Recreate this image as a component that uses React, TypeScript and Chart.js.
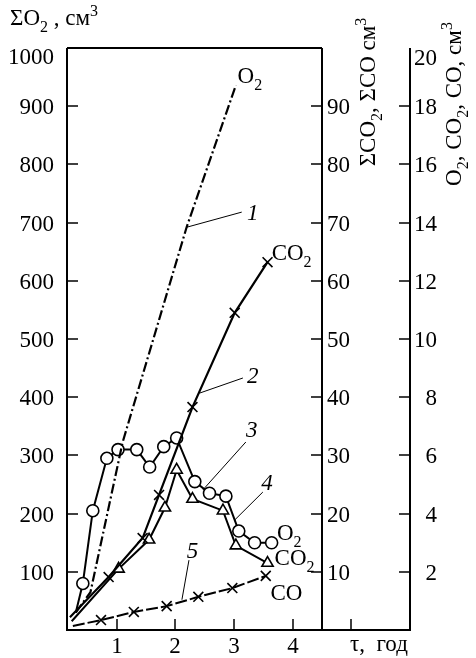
import React, { useEffect, useRef } from 'react';
import { Chart, registerables } from 'chart.js';

Chart.register(...registerables);

// Curve 1: ΣO2 cumulative (left axis, см³)
const sumO2X = [0.3, 0.55, 1.1, 2.19, 3.03];
const sumO2Y = [30, 65, 323, 692, 936];
// Curve 2: ΣCO2 cumulative (middle axis, см³)
const sumCO2X = [0.2, 0.86, 1.44, 1.72, 2.29, 3.01, 3.57];
const sumCO2Y = [2.2, 9.1, 15.8, 23.2, 38.3, 54.5, 63.2];
// Curve 3: O2 (right axis, см³)
const o2X = [0.3, 0.42, 0.59, 0.83, 1.02, 1.34, 1.56, 1.8, 2.02, 2.33, 2.58, 2.86, 3.08, 3.35, 3.64];
const o2Y = [0.6, 1.6, 4.1, 5.9, 6.2, 6.2, 5.6, 6.3, 6.6, 5.1, 4.7, 4.6, 3.4, 3.0, 3.0];
// Curve 4: CO2 (right axis, см³)
const co2X = [0.23, 1.03, 1.55, 1.82, 2.02, 2.29, 2.81, 3.03, 3.57];
const co2Y = [0.3, 2.1, 3.1, 4.2, 5.5, 4.5, 4.1, 2.9, 2.3];
// Curve 5: CO (right axis, см³)
const coX = [0.25, 0.73, 1.29, 1.85, 2.39, 2.97, 3.54];
const coY = [0.14, 0.34, 0.62, 0.82, 1.14, 1.44, 1.86];

// Axis ticks
const leftTicks = [100, 200, 300, 400, 500, 600, 700, 800, 900, 1000];
const midTicks = [10, 20, 30, 40, 50, 60, 70, 80, 90];
const rightTicks = [2, 4, 6, 8, 10, 12, 14, 16, 18, 20];
const xTicks = [1, 2, 3, 4, 5];
const xTickLabels = ['1', '2', '3', '4', ''];
const midAxisAt = 4.5;

// Curve numbers and leader lines (data coords: x, left-axis value)
const curveNums = ['1', '2', '3', '4', '5'];
const curveNumPos = [[3.32, 718], [3.32, 438], [3.3, 344], [3.56, 254], [2.29, 137]];
const leaders = [
  [3.13, 718, 2.19, 692],
  [3.15, 433, 2.41, 407],
  [3.2, 323, 2.47, 241],
  [3.49, 237, 3.01, 189],
  [2.23, 120, 2.11, 52],
];
// Gas labels at curve ends (left-aligned start, vertical centre)
const gasLabels: [string, number][][] = [
  [['O', 0], ['2', 1]],
  [['CO', 0], ['2', 1]],
  [['O', 0], ['2', 1]],
  [['CO', 0], ['2', 1]],
  [['CO', 0]],
];
const gasLabelPos = [[3.06, 952], [3.64, 648], [3.73, 167], [3.69, 124], [3.62, 64]];

const FONT = '"Liberation Serif", "Times New Roman", serif';

function rich(ctx: CanvasRenderingContext2D, segs: [string, number][], x: number, y: number, size: number, align: string, italic = false) {
  const fN = `${italic ? 'italic ' : ''}${size}px ${FONT}`;
  const fS = `${Math.round(size * 0.68)}px ${FONT}`;
  let w = 0;
  for (const [t, k] of segs) {
    ctx.font = k ? fS : fN;
    w += ctx.measureText(t).width;
  }
  let cx = align === 'left' ? x : align === 'center' ? x - w / 2 : x - w;
  ctx.textAlign = 'left';
  ctx.textBaseline = 'alphabetic';
  for (const [t, k] of segs) {
    ctx.font = k ? fS : fN;
    const dy = k === 1 ? size * 0.3 : k === 2 ? -size * 0.38 : 0;
    ctx.fillText(t, cx, y + dy);
    cx += ctx.measureText(t).width;
  }
}

const decor = {
  id: 'decor',
  afterDatasetsDraw(chart: any) {
    const { ctx, chartArea: a, scales } = chart;
    const sx = scales.x, yL = scales.yL, yM = scales.yM, yR = scales.yR;
    const xm = Math.round(sx.getPixelForValue(midAxisAt));
    const L = Math.round(a.left), R = Math.round(a.right), T = Math.round(a.top), B = Math.round(a.bottom);
    const line = (x1: number, y1: number, x2: number, y2: number) => {
      ctx.beginPath();
      ctx.moveTo(x1, y1);
      ctx.lineTo(x2, y2);
      ctx.stroke();
    };
    ctx.save();
    ctx.strokeStyle = '#000';
    ctx.fillStyle = '#000';
    ctx.lineWidth = 2;
    line(L, T, L, B + 1);
    line(L, T, xm, T);
    line(xm, T, xm, B);
    line(R, T, R, B);
    line(L - 1, B, R + 1, B);

    const tl = 11;
    const size = 23;
    ctx.lineWidth = 1.5;
    // left ticks
    for (const v of leftTicks) {
      const y = Math.round(yL.getPixelForValue(v));
      if (v < 1000) line(L, y, L + tl, y);
      const cy = Math.max(y, T + 8);
      rich(ctx, [[String(v), 0]], L - 13, cy + 7.5, size, 'right');
    }
    // middle ticks
    for (const v of midTicks) {
      const y = Math.round(yM.getPixelForValue(v));
      line(xm - tl, y, xm, y);
      rich(ctx, [[String(v), 0]], xm + 5, y + 7.5, size, 'left');
    }
    // right ticks
    for (const v of rightTicks) {
      const y = Math.round(yR.getPixelForValue(v));
      if (v < 20) line(R - tl, y, R, y);
      const cy = Math.max(y, T + 9);
      rich(ctx, [[String(v), 0]], R + 27, cy + 7.5, size, 'right');
    }
    // x ticks
    xTicks.forEach((v, i) => {
      const x = Math.round(sx.getPixelForValue(v));
      line(x, B, x, B - tl);
      if (xTickLabels[i]) rich(ctx, [[xTickLabels[i], 0]], x, B + 23, size, 'center');
    });

    // axis titles
    rich(ctx, [['ΣO', 0], ['2', 1], [' , см', 0], ['3', 2]], 10, 25, 23, 'left');
    ctx.save();
    ctx.translate(375, 92);
    ctx.rotate(-Math.PI / 2);
    rich(ctx, [['ΣCO', 0], ['2', 1], [', ΣCO см', 0], ['3', 2]], 0, 0, 23, 'center');
    ctx.restore();
    ctx.save();
    ctx.translate(461, 104);
    ctx.rotate(-Math.PI / 2);
    rich(ctx, [['O', 0], ['2', 1], [', CO', 0], ['2', 1], [', CO, см', 0], ['3', 2]], 0, 0, 23, 'center');
    ctx.restore();
    rich(ctx, [['τ,  год', 0]], 350, 651, 23, 'left');

    // leaders
    ctx.lineWidth = 1;
    for (const [x1, y1, x2, y2] of leaders) {
      line(sx.getPixelForValue(x1), yL.getPixelForValue(y1), sx.getPixelForValue(x2), yL.getPixelForValue(y2));
    }
    curveNums.forEach((t, i) => {
      const [x, y] = curveNumPos[i];
      rich(ctx, [[t, 0]], sx.getPixelForValue(x), yL.getPixelForValue(y) + 7.5, 23, 'center', true);
    });
    gasLabels.forEach((segs, i) => {
      const [x, y] = gasLabelPos[i];
      rich(ctx, segs, sx.getPixelForValue(x), yL.getPixelForValue(y) + 7.5, 23, 'left');
    });
    ctx.restore();
  },
};

const pts = (xs: number[], ys: number[]) => xs.map((x, i) => ({ x, y: ys[i] }));
const radii = (n: number, r: number) => Array.from({ length: n }, (_, i) => (i === 0 ? 0 : r));

export default function App() {
  const ref = useRef<HTMLCanvasElement>(null);
  useEffect(() => {
    const chart = new Chart(ref.current!, {
      type: 'line',
      data: {
        datasets: [
          {
            label: 'ΣO2',
            data: pts(sumO2X, sumO2Y),
            yAxisID: 'yL',
            borderColor: '#000',
            borderWidth: 2.2,
            borderDash: [10, 3, 2, 3],
            pointRadius: 0,
          },
          {
            label: 'ΣCO2',
            data: pts(sumCO2X, sumCO2Y),
            yAxisID: 'yM',
            borderColor: '#000',
            borderWidth: 2.2,
            pointStyle: 'crossRot',
            pointRadius: radii(sumCO2X.length, 7),
            pointBorderWidth: 1.6,
            pointBorderColor: '#000',
          },
          {
            label: 'O2',
            data: pts(o2X, o2Y),
            yAxisID: 'yR',
            borderColor: '#000',
            borderWidth: 2,
            pointStyle: 'circle',
            pointRadius: radii(o2X.length, 6),
            pointBackgroundColor: '#fff',
            pointBorderColor: '#000',
            pointBorderWidth: 1.6,
          },
          {
            label: 'CO2',
            data: pts(co2X, co2Y),
            yAxisID: 'yR',
            borderColor: '#000',
            borderWidth: 2,
            pointStyle: 'triangle',
            pointRadius: radii(co2X.length, 6.5),
            pointBackgroundColor: '#fff',
            pointBorderColor: '#000',
            pointBorderWidth: 1.6,
          },
          {
            label: 'CO',
            data: pts(coX, coY),
            yAxisID: 'yR',
            borderColor: '#000',
            borderWidth: 2,
            borderDash: [12, 3],
            pointStyle: 'crossRot',
            pointRadius: radii(coX.length, 7),
            pointBorderWidth: 1.6,
            pointBorderColor: '#000',
          },
        ],
      },
      options: {
        animation: false,
        responsive: false,
        events: [],
        layout: { padding: { left: 67, top: 48, right: 66, bottom: 28 } },
        plugins: { legend: { display: false }, tooltip: { enabled: false } },
        scales: {
          x: { type: 'linear', min: 0.15, max: 6, display: false },
          yL: { type: 'linear', min: 0, max: 1000, display: false },
          yM: { type: 'linear', min: 0, max: 100, display: false },
          yR: { type: 'linear', min: 0, max: 20, display: false },
        },
      },
      plugins: [decor],
    });
    return () => chart.destroy();
  }, []);
  return (
    <div style={{ position: 'absolute', left: 0, top: 0, width: 476, height: 658, background: '#fff' }}>
      <canvas ref={ref} width={476} height={658} />
    </div>
  );
}
